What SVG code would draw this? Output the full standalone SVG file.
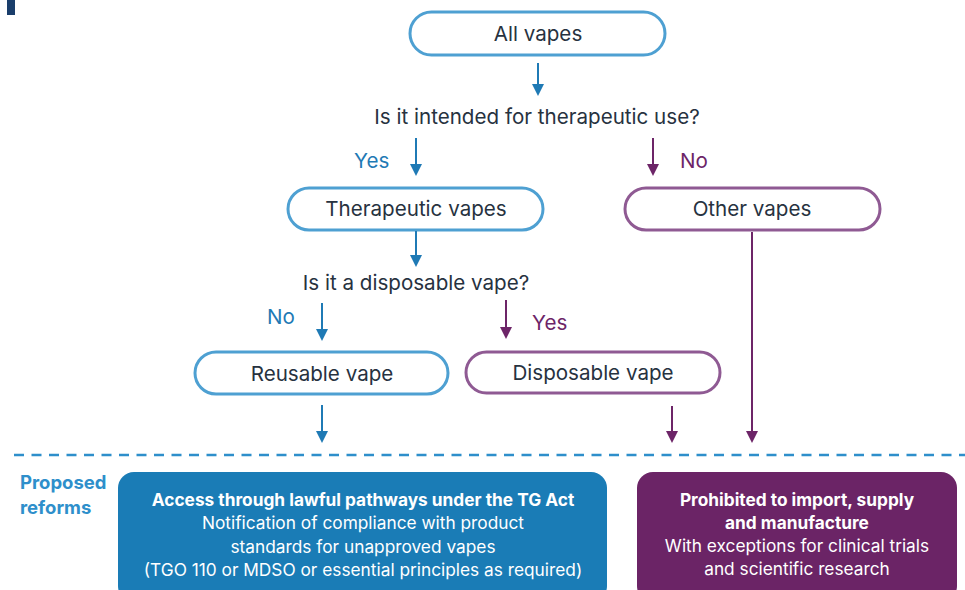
<svg xmlns="http://www.w3.org/2000/svg" width="965" height="590" viewBox="0 0 965 590">
<style>
.t{font-family:Inter,"Liberation Sans",sans-serif;font-size:20.6px;fill:#27323f;text-anchor:middle}
.lb{font-family:Inter,"Liberation Sans",sans-serif;font-size:20.6px;fill:#1f7ab5}
.lp{font-family:Inter,"Liberation Sans",sans-serif;font-size:20.6px;fill:#6d2568}
.pb{fill:#fff;stroke:#4ea0d2;stroke-width:3}
.pp{fill:#fff;stroke:#8f5a93;stroke-width:3}
.ab{stroke:#1f7ab5;stroke-width:2;fill:none}
.ap{stroke:#6d2568;stroke-width:2;fill:none}
.w{font-family:Inter,"Liberation Sans",sans-serif;font-size:17.3px;fill:#fff;text-anchor:middle}
.wb{font-weight:bold}
</style>
<rect x="7" y="0" width="8" height="15" fill="#1a3e6b"/>
<g id="all-vapes"><rect class="pb" x="410" y="12" width="255" height="43" rx="21.5"/><text class="t" x="538" y="41">All vapes</text></g>
<g id="q1"><text class="t" x="537" y="124">Is it intended for therapeutic use?</text></g>
<g id="therapeutic"><rect class="pb" x="288" y="188" width="255" height="42" rx="21"/><text class="t" x="416" y="216">Therapeutic vapes</text></g>
<g id="other"><rect class="pp" x="625" y="188" width="255" height="42" rx="21"/><text class="t" x="752" y="216">Other vapes</text></g>
<g id="q2"><text class="t" x="416" y="290">Is it a disposable vape?</text></g>
<g id="reusable"><rect class="pb" x="195" y="352" width="253" height="42" rx="21"/><text class="t" x="322" y="381">Reusable vape</text></g>
<g id="disposable"><rect class="pp" x="466" y="352" width="254" height="41" rx="20.5"/><text class="t" x="593" y="380">Disposable vape</text></g>
<g id="connectors">
<line class="ab" x1="538" y1="63" x2="538" y2="85"/><path d="M532,84 L544,84 L538,96 Z" fill="#1f7ab5"/>
<line class="ab" x1="416" y1="138" x2="416" y2="165"/><path d="M410,164 L422,164 L416,176 Z" fill="#1f7ab5"/>
<line class="ap" x1="653" y1="138" x2="653" y2="165"/><path d="M647,164 L659,164 L653,176 Z" fill="#6d2568"/>
<line class="ab" x1="416" y1="231" x2="416" y2="256"/><path d="M410,255 L422,255 L416,267 Z" fill="#1f7ab5"/>
<line class="ab" x1="322" y1="303" x2="322" y2="330"/><path d="M316,329 L328,329 L322,341 Z" fill="#1f7ab5"/>
<line class="ap" x1="506" y1="300" x2="506" y2="328"/><path d="M500,327 L512,327 L506,339 Z" fill="#6d2568"/>
<line class="ab" x1="322" y1="405" x2="322" y2="432"/><path d="M316,431 L328,431 L322,443 Z" fill="#1f7ab5"/>
<line class="ap" x1="672" y1="406" x2="672" y2="432"/><path d="M666,431 L678,431 L672,443 Z" fill="#6d2568"/>
<line class="ap" x1="752" y1="232" x2="752" y2="432"/><path d="M746,431 L758,431 L752,443 Z" fill="#6d2568"/>
<text class="lb" x="354" y="168">Yes</text>
<text class="lp" x="680" y="168">No</text>
<text class="lb" x="267" y="324">No</text>
<text class="lp" x="532" y="330">Yes</text>
</g>
<line x1="14" y1="455" x2="965" y2="455" stroke="#2e8fcb" stroke-width="2.5" stroke-dasharray="10 7.5"/>
<g id="proposed"><text font-family="Inter,'Liberation Sans',sans-serif" font-size="18.5" font-weight="bold" fill="#2e8fcb"><tspan x="20" y="489">Proposed</tspan><tspan x="20" y="514">reforms</tspan></text></g>
<g id="access"><rect x="118" y="472" width="489" height="130" rx="16" fill="#1a7cb6"/>
<text class="w"><tspan class="wb" x="363" y="506">Access through lawful pathways under the TG Act</tspan><tspan x="363" y="529">Notification of compliance with product</tspan><tspan x="363" y="553">standards for unapproved vapes</tspan><tspan x="363" y="576">(TGO 110 or MDSO or essential principles as required)</tspan></text></g>
<g id="prohibited"><rect x="637" y="472" width="320" height="130" rx="16" fill="#6b2466"/>
<text class="w"><tspan class="wb" x="797" y="506">Prohibited to import, supply</tspan><tspan class="wb" x="797" y="529">and manufacture</tspan><tspan x="797" y="552">With exceptions for clinical trials</tspan><tspan x="797" y="575">and scientific research</tspan></text></g>
</svg>
